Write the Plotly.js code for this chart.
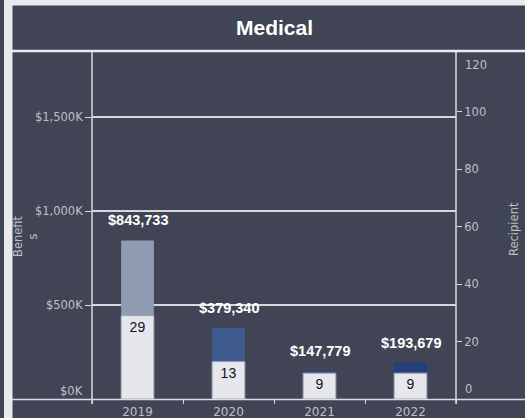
<!DOCTYPE html>
<html>
<head>
<meta charset="utf-8">
<script src="https://cdn.plot.ly/plotly-3.0.1.min.js"></script>
<style>
  html, body { margin: 0; padding: 0; background: #404454; }
  #chart { width: 525px; height: 418px; }
</style>
</head>
<body>
<div id="chart"></div>
<script>
// ---- data ----
const years = ['2019', '2020', '2021', '2022'];
const benefits = [843733, 379340, 147779, 193679];
const recipients = [29, 13, 9, 9];
const benefitTickVals = [0, 500000, 1000000, 1500000];
const benefitTickText = ['$0K', '$500K', '$1,000K', '$1,500K'];
const recipientTickVals = [0, 20, 40, 60, 80, 100, 120];
const titleText = 'Medical';
const benefitTitle = 'Benefit<br>s';
const recipientTitle = 'Recipient';

// ---- styling ----
const W = 525, H = 418;
const L = 92, R = 456, T = 52, B = 399;
const px = x => (x - L) / (R - L);
const py = y => (B - y) / (B - T);
const bg = '#404454';
const frame = '#e9eaee';
const tickColor = '#bcc0c9';
const tickFont = { family: 'DejaVu Sans', size: 11.5, color: tickColor };
const benefitColors = ['#909cb2', '#3f5a8e', '#2d4781', '#243f7c'];

const traces = [
  {
    type: 'bar', x: years, y: benefits, xaxis: 'x', yaxis: 'y',
    marker: { color: benefitColors },
    hoverinfo: 'skip', showlegend: false
  },
  {
    type: 'bar', x: years, y: recipients, xaxis: 'x', yaxis: 'y2',
    marker: { color: '#e5e7ed', line: { width: 1, color: '#9ea3ae' } },
    texttemplate: '%{y}', textposition: 'inside', insidetextanchor: 'end',
    textfont: { family: 'Arial', size: 14, color: '#111111' },
    hoverinfo: 'skip', showlegend: false
  }
];

// value labels above benefit bars (x given as category index)
const annotations = years.map((yr, i) => ({
  x: i, y: benefits[i], xref: 'x', yref: 'y',
  text: '<b>$' + benefits[i].toLocaleString('en-US') + '</b>',
  showarrow: false, yanchor: 'bottom', yshift: 10,
  font: { family: 'Arial', size: 14.5, color: '#ffffff' }
}));
// end tick labels drawn inside the plot edges
annotations.push(
  { x: 0, y: benefitTickVals[0], xref: 'paper', yref: 'y', text: benefitTickText[0],
    showarrow: false, xanchor: 'right', yanchor: 'bottom', xshift: -7, yshift: -1, font: tickFont },
  { x: 1, y: recipientTickVals[0], xref: 'paper', yref: 'y2', text: String(recipientTickVals[0]),
    showarrow: false, xanchor: 'left', yanchor: 'bottom', xshift: 7, yshift: 1, font: tickFont },
  { x: 1, y: recipientTickVals[recipientTickVals.length - 1], xref: 'paper', yref: 'y2',
    text: String(recipientTickVals[recipientTickVals.length - 1]),
    showarrow: false, xanchor: 'left', yanchor: 'top', xshift: 7, yshift: -2, font: tickFont },
  { x: 0.5, y: py(28), xref: 'paper', yref: 'paper', text: '<b>' + titleText + '</b>',
    showarrow: false, xanchor: 'center', yanchor: 'middle',
    font: { family: 'Liberation Sans', size: 21, color: '#ffffff' } },
  { x: px(25), y: py(236), xref: 'paper', yref: 'paper', text: benefitTitle,
    showarrow: false, textangle: -90, xanchor: 'center', yanchor: 'middle',
    font: { family: 'DejaVu Sans', size: 11.5, color: tickColor } },
  { x: px(514), y: py(229), xref: 'paper', yref: 'paper', text: recipientTitle,
    showarrow: false, textangle: -90, xanchor: 'center', yanchor: 'middle',
    font: { family: 'DejaVu Sans', size: 11.5, color: tickColor } }
);

const shapes = [
  { type: 'rect', xref: 'paper', yref: 'paper', x0: px(4), x1: px(12.5), y0: py(H), y1: py(0),
    fillcolor: frame, line: { width: 0 } },
  { type: 'rect', xref: 'paper', yref: 'paper', x0: px(4), x1: px(W), y0: py(5.5), y1: py(0),
    fillcolor: frame, line: { width: 0 } },
  { type: 'line', xref: 'paper', yref: 'paper', x0: px(12), x1: px(W), y0: py(51), y1: py(51),
    line: { color: frame, width: 2.5 } },
  { type: 'line', xref: 'paper', yref: 'paper', x0: px(12), x1: px(W), y0: py(399.5), y1: py(399.5),
    line: { color: '#d9dbe0', width: 1.5 } },
  { type: 'line', xref: 'paper', yref: 'paper', x0: px(92), x1: px(92), y0: py(52), y1: py(404),
    line: { color: '#d9dbe0', width: 1.5 } },
  { type: 'line', xref: 'paper', yref: 'paper', x0: px(456), x1: px(456), y0: py(52), y1: py(404),
    line: { color: '#d9dbe0', width: 1.5 } }
];

const layout = {
  width: W, height: H,
  margin: { l: L, r: W - R, t: T, b: H - B, pad: 0 },
  paper_bgcolor: bg, plot_bgcolor: 'rgba(0,0,0,0)',
  barmode: 'overlay', bargap: 0.64,
  showlegend: false,
  xaxis: {
    type: 'category', range: [-0.5, 3.5], showgrid: false, zeroline: false, showline: false,
    tickson: 'boundaries', ticks: 'outside', ticklen: 4, tickcolor: '#d9dbe0', tickwidth: 1,
    ticklabelstandoff: 4,
    tickfont: { family: 'DejaVu Sans', size: 12, color: tickColor }
  },
  yaxis: {
    range: [0, 1846000], tickvals: benefitTickVals.slice(1), ticktext: benefitTickText.slice(1),
    showgrid: true, gridcolor: '#d6d8de', gridwidth: 1.5, zeroline: false, showline: false,
    ticks: 'outside', ticklen: 6, tickcolor: '#d9dbe0', tickwidth: 1,
    tickfont: tickFont
  },
  yaxis2: {
    range: [0, 120.7], tickvals: recipientTickVals.slice(1, -1), overlaying: 'y', side: 'right',
    showgrid: false, zeroline: false, showline: false,
    ticks: 'outside', ticklen: 5, tickcolor: '#d9dbe0', tickwidth: 1,
    tickfont: tickFont
  },
  annotations: annotations,
  shapes: shapes
};

Plotly.newPlot('chart', traces, layout, { displayModeBar: false, staticPlot: true });
</script>
</body>
</html>
